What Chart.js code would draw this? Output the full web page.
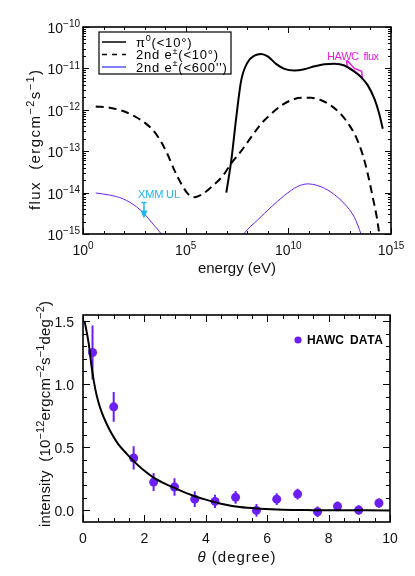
<!DOCTYPE html>
<html>
<head>
<meta charset="utf-8">
<script src="https://cdn.jsdelivr.net/npm/chart.js@4.4.1/dist/chart.umd.min.js"></script>
<style>
  html, body { margin: 0; padding: 0; background: #fff; }
  #wrap { position: relative; width: 415px; height: 576px; }
  canvas { position: absolute; left: 0; }
</style>
</head>
<body>
<div id="wrap">
  <canvas id="sedChart" width="415" height="288" style="top:0"></canvas>
  <canvas id="profileChart" width="415" height="288" style="top:288px"></canvas>
</div>
<script>
// ---- top panel, values read as log10(E/eV) and log10(flux) ----
const piLogE = [6.98, 7.22, 7.46, 7.70, 8.02, 8.35, 8.67, 9.0, 9.4, 9.81, 10.29, 10.78, 11.27, 11.75, 12.24, 12.73, 13.13, 13.54, 13.87, 14.19, 14.43, 14.6];
const piLogF = [-14.0, -13.23, -12.2, -11.3, -10.85, -10.69, -10.65, -10.71, -10.89, -11.01, -11.05, -11.02, -10.95, -10.9, -10.89, -10.93, -11.05, -11.21, -11.41, -11.73, -12.1, -12.46];

const secLogE = [0.62, 1.3, 1.95, 2.6, 3.08, 3.49, 3.81, 4.14, 4.46, 4.79, 5.11, 5.44, 5.84, 6.33, 6.82, 7.21, 7.7, 8.19, 8.67, 9.16, 9.65, 10.13, 10.62, 11.11, 11.6, 12.08, 12.57, 12.98, 13.3, 13.63, 13.87, 14.11, 14.31, 14.43, 14.5];
const secLogF = [-11.92, -11.95, -12.03, -12.18, -12.34, -12.54, -12.78, -13.1, -13.47, -13.79, -14.03, -14.11, -14.03, -13.83, -13.59, -13.3, -13.0, -12.66, -12.34, -12.1, -11.9, -11.77, -11.71, -11.71, -11.77, -11.9, -12.11, -12.38, -12.66, -13.1, -13.55, -14.11, -14.6, -15.0, -15.25];

const innerLowLogE = [0.62, 1.3, 1.95, 2.6, 3.0, 3.41, 3.81, 3.95];
const innerLowLogF = [-14.01, -14.06, -14.15, -14.34, -14.52, -14.76, -15.0, -15.12];
const innerHighLogE = [7.7, 7.83, 8.51, 9.16, 9.81, 10.46, 10.94, 11.43, 12.08, 12.73, 13.22, 13.54, 13.62];
const innerHighLogF = [-15.12, -15.0, -14.66, -14.35, -14.07, -13.85, -13.79, -13.83, -13.99, -14.27, -14.6, -15.0, -15.12];

const hawcBowLogE = [12.84, 13.22, 13.57, 13.6, 13.22, 12.86, 12.84];
const hawcBowLogF = [-10.8, -11.0, -11.07, -11.22, -11.06, -10.95, -10.8];

const xmmLogE = 2.97;
const xmmLogF = -14.24;

const sedTickExps = [0, 5, 10, 15];
const fluxTickExps = [-15, -14, -13, -12, -11, -10];

// ---- bottom panel ----
const hawcTheta = [0.31, 1.0, 1.65, 2.30, 2.98, 3.64, 4.30, 4.97, 5.65, 6.31, 6.99, 7.64, 8.29, 8.98, 9.64];
const hawcIntensity = [1.25, 0.82, 0.415, 0.224, 0.185, 0.089, 0.071, 0.103, 0.0, 0.089, 0.129, -0.011, 0.032, 0.003, 0.058];
const hawcError = [0.214, 0.118, 0.092, 0.071, 0.07, 0.063, 0.053, 0.05, 0.05, 0.047, 0.043, 0.042, 0.039, 0.038, 0.037];

const modelTheta = [0.05, 0.18, 0.29, 0.40, 0.51, 0.62, 0.78, 0.95, 1.16, 1.38, 1.65, 1.92, 2.30, 2.68, 3.01, 3.55, 4.0, 4.46, 5.11, 5.77, 6.5, 7.5, 8.5, 10.0];
const modelIntensity = [1.5, 1.33, 1.12, 0.96, 0.85, 0.77, 0.68, 0.60, 0.52, 0.46, 0.39, 0.33, 0.26, 0.21, 0.174, 0.12, 0.085, 0.055, 0.026, 0.013, 0.005, 0.002, 0.001, 0.0];

const thetaTicks = [0, 2, 4, 6, 8, 10];
const intensityTicks = [0, 0.5, 1.0, 1.5];

const PURPLE = "#6b1ff5";
const CYAN = "#1fb6f2";
const MAGENTA = "#e21ee2";
const INK = "#111";
const FONT = "'Liberation Sans', Arial, sans-serif";

function logPoints(xs, ys) {
  return xs.map((x, i) => ({ x: Math.pow(10, x), y: Math.pow(10, ys[i]) }));
}
function linPoints(xs, ys) {
  return xs.map((x, i) => ({ x: x, y: ys[i] }));
}

// text with superscripts, laid out glyph by glyph
// segs: [[text, kind]] kind n = normal, s = superscript, i = italic, b = bold
function glyphRun(ctx, segs, size, spacing) {
  const glyphs = [];
  let w = 0;
  segs.forEach(([text, kind]) => {
    const px = kind === "s" ? Math.round(size * 0.7) : size;
    const font = (kind === "i" ? "italic " : "") + (kind === "b" ? "bold " : "") + px + "px " + FONT;
    ctx.font = font;
    for (const ch of text) {
      glyphs.push({ ch, font, x: w, dy: kind === "s" ? -size * 0.42 : 0 });
      w += ctx.measureText(ch).width + spacing;
    }
  });
  return { glyphs, width: w - spacing };
}
function drawRich(ctx, segs, o) {
  ctx.save();
  ctx.translate(o.x, o.y);
  if (o.rotate) ctx.rotate(-Math.PI / 2);
  let sp = o.spacing || 0;
  let run = glyphRun(ctx, segs, o.size, sp);
  if (o.width) {
    sp += (o.width - run.width) / (run.glyphs.length - 1);
    run = glyphRun(ctx, segs, o.size, sp);
  }
  const x0 = o.align === "right" ? -run.width : o.align === "left" ? 0 : -run.width / 2;
  ctx.fillStyle = o.color || INK;
  ctx.textBaseline = "alphabetic";
  ctx.textAlign = "left";
  const by = o.size * 0.36;
  run.glyphs.forEach((g) => {
    ctx.font = g.font;
    ctx.fillText(g.ch, x0 + g.x, by + g.dy);
  });
  ctx.restore();
}
function powSegs(e) {
  return [["10", "n"], [String(e).replace("-", "−"), "s"]];
}

// box with inward ticks on all four sides
const framePlugin = {
  id: "frame",
  afterDatasetsDraw(chart, args, opts) {
    const { ctx, chartArea: a } = chart;
    const sx = chart.scales.x, sy = chart.scales.y;
    ctx.save();
    ctx.strokeStyle = "#000";
    ctx.lineWidth = 1;
    ctx.beginPath();
    const xt = (vals, len) => vals.forEach((v) => {
      const p = Math.round(sx.getPixelForValue(v)) + 0.5;
      if (p < a.left - 0.5 || p > a.right + 0.5) return;
      ctx.moveTo(p, a.bottom); ctx.lineTo(p, a.bottom - len);
      ctx.moveTo(p, a.top); ctx.lineTo(p, a.top + len);
    });
    const yt = (vals, len) => vals.forEach((v) => {
      const p = Math.round(sy.getPixelForValue(v)) + 0.5;
      if (p < a.top - 0.5 || p > a.bottom + 0.5) return;
      ctx.moveTo(a.left, p); ctx.lineTo(a.left + len, p);
      ctx.moveTo(a.right, p); ctx.lineTo(a.right - len, p);
    });
    xt(opts.xMajor, opts.majorLen); xt(opts.xMinor, opts.minorLen);
    yt(opts.yMajor, opts.majorLen); yt(opts.yMinor, opts.minorLen);
    ctx.stroke();
    ctx.lineWidth = 1.6;
    ctx.strokeRect(a.left, a.top, a.right - a.left, a.bottom - a.top);
    ctx.restore();
  },
};

const sedText = {
  id: "sedText",
  afterDraw(chart) {
    const { ctx, chartArea: a } = chart;
    const sx = chart.scales.x, sy = chart.scales.y;
    fluxTickExps.forEach((e) => drawRich(ctx, powSegs(e), { x: a.left - 3, y: sy.getPixelForValue(Math.pow(10, e)) + 1, align: "right", size: 14 }));
    sedTickExps.forEach((e) => drawRich(ctx, powSegs(e), { x: sx.getPixelForValue(Math.pow(10, e)), y: 250, size: 14 }));
    drawRich(ctx, [["energy (eV)", "n"]], { x: (a.left + a.right) / 2, y: 268, size: 15, width: 78 });
    drawRich(ctx, [["flux  (ergcm", "n"], ["−2", "s"], ["s", "n"], ["−1", "s"], [")", "n"]], { x: 35, y: 140, size: 15, width: 140, rotate: true });

    // XMM upper limit
    ctx.save();
    const ux = sx.getPixelForValue(Math.pow(10, xmmLogE));
    const uy = sy.getPixelForValue(Math.pow(10, xmmLogF));
    ctx.strokeStyle = CYAN; ctx.fillStyle = CYAN; ctx.lineWidth = 1.5;
    ctx.beginPath();
    ctx.moveTo(ux - 2.5, uy); ctx.lineTo(ux + 2.5, uy);
    ctx.moveTo(ux, uy); ctx.lineTo(ux, uy + 10);
    ctx.stroke();
    ctx.beginPath();
    ctx.moveTo(ux - 3.5, uy + 8); ctx.lineTo(ux + 3.5, uy + 8); ctx.lineTo(ux, uy + 16);
    ctx.closePath(); ctx.fill();
    ctx.restore();
    drawRich(ctx, [["XMM UL", "n"]], { x: a.left + 55, y: a.top + 167, size: 11, align: "left", width: 42, color: CYAN });
    drawRich(ctx, [["HAWC  flux", "n"]], { x: a.left + 244, y: a.top + 29, size: 11, align: "left", width: 52, color: MAGENTA });

    // legend box
    ctx.save();
    const lx = a.left + 16, ly = a.top + 5, lw = 132, lh = 42;
    ctx.fillStyle = "#fff";
    ctx.fillRect(lx, ly, lw, lh);
    ctx.strokeStyle = "#000"; ctx.lineWidth = 1.2;
    ctx.strokeRect(lx, ly, lw, lh);
    const rows = [
      { segs: [["π", "n"], ["0", "s"], ["(<10°)", "n"]], color: "#000", dash: [], width: 1.5 },
      { segs: [["2nd e", "n"], ["±", "s"], ["(<10°)", "n"]], color: "#000", dash: [5, 5], width: 1.5 },
      { segs: [["2nd e", "n"], ["±", "s"], ["(<600'')", "n"]], color: "#2a2af0", dash: [], width: 1.2 },
    ];
    rows.forEach((r, i) => {
      const y = ly + 10 + i * 12.5;
      ctx.beginPath();
      ctx.setLineDash(r.dash);
      ctx.strokeStyle = r.color; ctx.lineWidth = r.width;
      ctx.moveTo(lx + 3, y); ctx.lineTo(lx + 27, y);
      ctx.stroke();
      ctx.setLineDash([]);
      drawRich(ctx, r.segs, { x: lx + 37, y: y, size: 13, align: "left", spacing: 0.8, color: "#000" });
    });
    ctx.restore();
  },
};

const profileText = {
  id: "profileText",
  beforeDatasetsDraw(chart) {
    const { ctx } = chart;
    const sx = chart.scales.x, sy = chart.scales.y;
    ctx.save();
    ctx.strokeStyle = PURPLE; ctx.lineWidth = 2;
    ctx.beginPath();
    hawcTheta.forEach((t, i) => {
      const x = sx.getPixelForValue(t);
      ctx.moveTo(x, sy.getPixelForValue(hawcIntensity[i] + hawcError[i]));
      ctx.lineTo(x, sy.getPixelForValue(hawcIntensity[i] - hawcError[i]));
    });
    ctx.stroke();
    ctx.restore();
  },
  afterDraw(chart) {
    const { ctx, chartArea: a } = chart;
    const sx = chart.scales.x, sy = chart.scales.y;
    intensityTicks.forEach((v) => drawRich(ctx, [[v.toFixed(1), "n"]], { x: a.left - 9, y: sy.getPixelForValue(v) + 1, align: "right", size: 14 }));
    thetaTicks.forEach((v) => drawRich(ctx, [[String(v), "n"]], { x: sx.getPixelForValue(v), y: 250, size: 14 }));
    drawRich(ctx, [["θ", "i"], [" (degree)", "n"]], { x: (a.left + a.right) / 2, y: 269, size: 15, width: 78 });
    drawRich(ctx, [["intensity  (10", "n"], ["−12", "s"], ["ergcm", "n"], ["−2", "s"], ["s", "n"], ["−1", "s"], ["deg", "n"], ["−2", "s"], [")", "n"]],
      { x: 45, y: 126, size: 15, width: 226, rotate: true });

    ctx.save();
    ctx.fillStyle = PURPLE;
    ctx.beginPath();
    ctx.arc(a.left + 215, a.top + 25, 3.6, 0, Math.PI * 2);
    ctx.fill();
    ctx.restore();
    drawRich(ctx, [["HAWC  DATA", "b"]], { x: a.left + 224, y: a.top + 25, size: 12, align: "left", width: 76, color: "#000" });
  },
};

function yAxisBase() {
  return {
    position: "left",
    grid: { display: false, drawTicks: false },
    border: { display: false },
    ticks: { display: false },
    afterFit(s) { s.width = 83; },
  };
}
function xAxisBase() {
  return {
    position: "bottom",
    grid: { display: false, drawTicks: false },
    border: { display: false },
    ticks: { display: false },
    afterFit(s) { s.height = 54; },
  };
}

// decade minor ticks for the log axes
const eMinor = [];
for (let e = 1; e < 15; e++) if (e % 5) eMinor.push(Math.pow(10, e));
const fMinor = [];
for (let e = -15; e < -10; e++) for (let k = 2; k < 10; k++) fMinor.push(k * Math.pow(10, e));

const sedX = Object.assign(xAxisBase(), { type: "logarithmic", min: 1, max: 1e15 });
const sedY = Object.assign(yAxisBase(), { type: "logarithmic", min: 1e-15, max: 1e-10 });

new Chart(document.getElementById("sedChart"), {
  type: "line",
  data: {
    datasets: [
      { label: "π0(<10°)", data: logPoints(piLogE, piLogF), borderColor: "#000", borderWidth: 2 },
      { label: "2nd e±(<10°)", data: logPoints(secLogE, secLogF), borderColor: "#000", borderWidth: 2, borderDash: [8, 5] },
      { label: "2nd e±(<600'')", data: logPoints(innerLowLogE, innerLowLogF), borderColor: PURPLE, borderWidth: 1 },
      { label: "2nd e±(<600'') high", data: logPoints(innerHighLogE, innerHighLogF), borderColor: PURPLE, borderWidth: 1 },
      { label: "HAWC flux", data: logPoints(hawcBowLogE, hawcBowLogF), borderColor: MAGENTA, borderWidth: 1.5, cubicInterpolationMode: "default", tension: 0 },
    ],
  },
  options: {
    responsive: false,
    animation: false,
    parsing: false,
    layout: { padding: { top: 27, right: 24, left: 0, bottom: 0 } },
    elements: { point: { radius: 0 }, line: { cubicInterpolationMode: "monotone", fill: false } },
    scales: { x: sedX, y: sedY },
    plugins: {
      legend: { display: false },
      tooltip: { enabled: false },
      frame: { xMajor: sedTickExps.map((e) => Math.pow(10, e)), xMinor: eMinor, yMajor: fluxTickExps.map((e) => Math.pow(10, e)), yMinor: fMinor, majorLen: 6, minorLen: 3 },
    },
  },
  plugins: [framePlugin, sedText],
});

const thetaMinor = [];
for (let t = 0.5; t < 10; t += 0.5) if (t % 2) thetaMinor.push(t);
const intMinor = [];
for (let k = 0; k <= 15; k++) if (k % 5) intMinor.push(k / 10);

const profX = Object.assign(xAxisBase(), { type: "linear", min: 0, max: 10 });
const profY = Object.assign(yAxisBase(), { type: "linear", min: -0.092, max: 1.547 });

new Chart(document.getElementById("profileChart"), {
  type: "line",
  data: {
    datasets: [
      { label: "model", data: linPoints(modelTheta, modelIntensity), borderColor: "#000", borderWidth: 2, pointRadius: 0, cubicInterpolationMode: "monotone" },
      { label: "HAWC DATA", data: linPoints(hawcTheta, hawcIntensity), showLine: false, pointRadius: 4.5, pointBackgroundColor: PURPLE, pointBorderWidth: 0 },
    ],
  },
  options: {
    responsive: false,
    animation: false,
    parsing: false,
    layout: { padding: { top: 27, right: 25, left: 0, bottom: 0 } },
    scales: { x: profX, y: profY },
    plugins: {
      legend: { display: false },
      tooltip: { enabled: false },
      frame: { xMajor: thetaTicks, xMinor: thetaMinor, yMajor: intensityTicks, yMinor: intMinor, majorLen: 7, minorLen: 4 },
    },
  },
  plugins: [framePlugin, profileText],
});
</script>
</body>
</html>
